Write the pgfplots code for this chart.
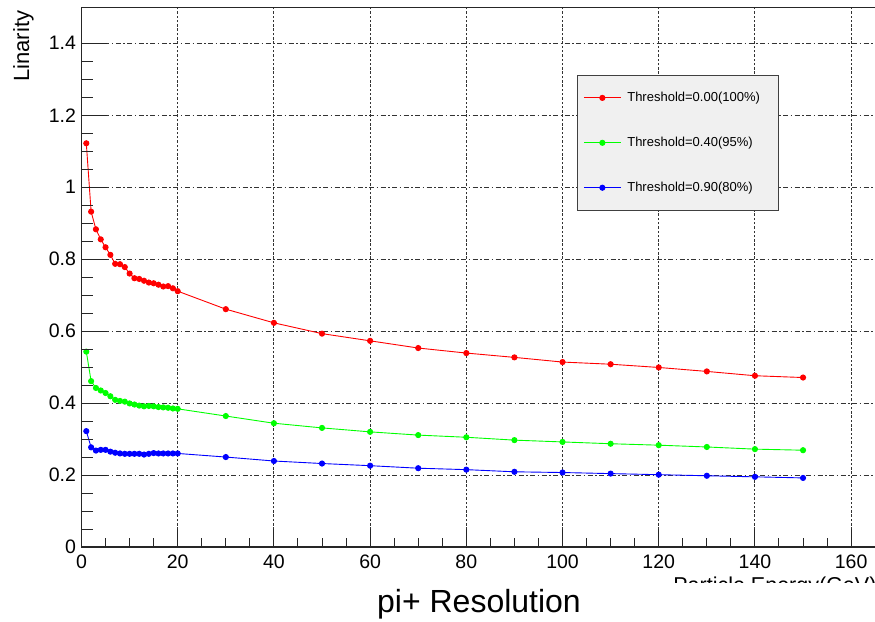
\documentclass[border=0pt]{standalone}
\usepackage{fontspec}
\setmainfont{Liberation Sans}
\usepackage{pgfplots}
\pgfplotsset{compat=1.18}

\definecolor{rootred}{RGB}{255,0,0}
\definecolor{rootgreen}{RGB}{0,255,0}
\definecolor{rootblue}{RGB}{0,0,255}

\pgfplotsset{
  frame/.style={
    scale only axis,
    width=798.5pt, height=539.7pt,
    xmin=0, xmax=166, ymin=0, ymax=1.5,
    xtick={0,20,...,160},
    ytick={0,0.2,...,1.4},
    minor x tick num=3,
    minor y tick num=3,
    tick align=inside,
    tick pos=left,
    axis line style={black!85, line width=1.1pt},
  },
}

\begin{document}
\begin{tikzpicture}
\begin{axis}[
  frame,
  /pgf/number format/assume math mode=true,
  ticklabel style={font=\fontsize{19.5}{22}\selectfont},
  xticklabel style={yshift=-4pt},
  yticklabel style={xshift=-2pt},
  major tick length=18pt,
  minor tick length=9pt,
  every tick/.style={black!85, line width=1pt},
  grid=major,
  major x grid style={black!80, line width=0.9pt, dash pattern=on 2.5pt off 1.8pt},
  major y grid style={black!80, line width=0.9pt, dash pattern=on 5pt off 2.5pt on 1.5pt off 2.5pt},
  xlabel={Particle Energy(GeV)},
  xlabel style={at={(rel axis cs:1,0)}, anchor=base east, yshift=-45pt,
                font=\fontsize{21.5}{24}\selectfont},
  ylabel={Linarity},
  ylabel style={at={(rel axis cs:-0.0727,1)}, anchor=east, rotate=0,
                font=\fontsize{22}{24}\selectfont},
  every axis plot/.append style={line width=0.9pt, mark=*, mark size=2.6pt},
  legend style={at={(rel axis cs:0.6205,0.8746)}, anchor=north west,
                draw=black!75, line width=0.9pt, fill=black!6,
                font=\fontsize{13}{15}\selectfont,
                row sep=30pt, inner xsep=6pt, inner ysep=15pt,
                /tikz/column sep=4pt},
  legend cell align=left,
  legend image code/.code={
    \draw[#1, mark repeat=2, mark phase=2]
      plot coordinates {(0pt,0pt) (18.5pt,0pt) (37pt,0pt)};
  },
]
% Threshold = 0.00 (100%)
\addplot[rootred, mark options={fill=rootred, draw=rootred}] coordinates {
  (1,1.122) (2,0.932) (3,0.883) (4,0.855) (5,0.833) (6,0.812) (7,0.787)
  (8,0.786) (9,0.778) (10,0.760) (11,0.747) (12,0.745) (13,0.740) (14,0.735)
  (15,0.733) (16,0.729) (17,0.724) (18,0.725) (19,0.719) (20,0.711)
  (30,0.661) (40,0.623) (50,0.593) (60,0.573) (70,0.553) (80,0.539)
  (90,0.527) (100,0.514) (110,0.508) (120,0.499) (130,0.488) (140,0.476)
  (150,0.471)
};
\addlegendentry{Threshold=0.00(100\%)\hspace*{11pt}}
% Threshold = 0.40 (95%)
\addplot[rootgreen, mark options={fill=rootgreen, draw=rootgreen}] coordinates {
  (1,0.543) (2,0.461) (3,0.442) (4,0.435) (5,0.428) (6,0.419) (7,0.409)
  (8,0.406) (9,0.404) (10,0.399) (11,0.396) (12,0.393) (13,0.391) (14,0.392)
  (15,0.391) (16,0.389) (17,0.388) (18,0.387) (19,0.385) (20,0.384)
  (30,0.364) (40,0.344) (50,0.331) (60,0.320) (70,0.311) (80,0.305)
  (90,0.297) (100,0.292) (110,0.287) (120,0.283) (130,0.278) (140,0.272)
  (150,0.269)
};
\addlegendentry{Threshold=0.40(95\%)}
% Threshold = 0.90 (80%)
\addplot[rootblue, mark options={fill=rootblue, draw=rootblue}] coordinates {
  (1,0.322) (2,0.277) (3,0.268) (4,0.270) (5,0.270) (6,0.265) (7,0.262)
  (8,0.260) (9,0.259) (10,0.259) (11,0.259) (12,0.259) (13,0.257) (14,0.259)
  (15,0.261) (16,0.260) (17,0.260) (18,0.260) (19,0.260) (20,0.260)
  (30,0.250) (40,0.239) (50,0.232) (60,0.226) (70,0.219) (80,0.215)
  (90,0.209) (100,0.207) (110,0.204) (120,0.201) (130,0.198) (140,0.195)
  (150,0.192)
};
\addlegendentry{Threshold=0.90(80\%)}
\end{axis}
% longer ticks on the y axis
\begin{axis}[
  frame,
  major tick length=26pt,
  minor tick length=12pt,
  every tick/.style={black!85, line width=1pt},
  xtick=\empty, minor x tick num=0,
  yticklabels={},
  axis line style={draw=none},
]
\end{axis}
% title pad
\fill[white] (-81.5pt,-36pt) rectangle (793.5pt,-74pt);
\node[anchor=base, font=\fontsize{32}{36}\selectfont] at (397.5pt,-65pt) {pi+ Resolution};
\pgfresetboundingbox
\useasboundingbox (-81.5pt,-74pt) rectangle (793.5pt,547pt);
\end{tikzpicture}
\end{document}
